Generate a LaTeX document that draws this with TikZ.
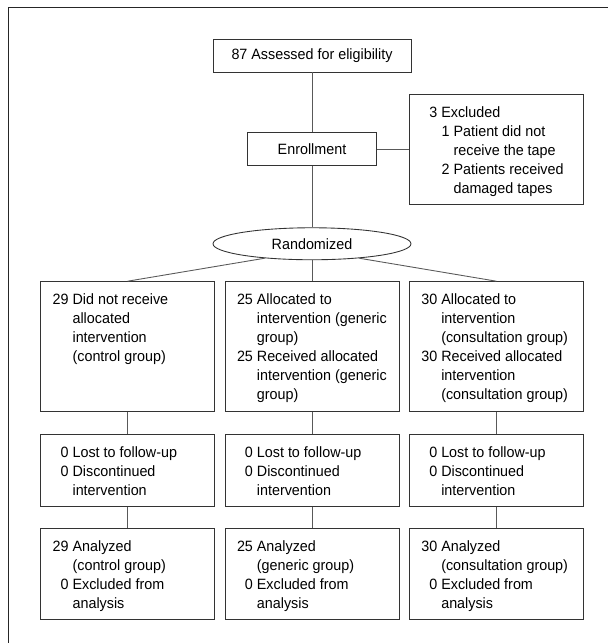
\documentclass[tikz,border=0pt]{standalone}
\usepackage{fontspec}
\setmainfont{Liberation Sans}[FakeStretch=0.96]
\usetikzlibrary{positioning,shapes.geometric}

\newlength{\numcol}
\setlength{\numcol}{9.1pt}
\newcommand{\itm}[1]{\makebox[\numcol][r]{#1}\ }
\newcommand{\cont}{\hspace*{\numcol}\ }
\newcommand{\subin}{\hspace*{7pt}}
\newcommand{\cellbody}[2]{\parbox[c][#1][t]{85.4pt}{\raggedright #2}}

\begin{document}
\begin{tikzpicture}[%
            font=\fontsize{8.5}{10.8}\selectfont,
            box/.style={draw=black!80, line width=0.5pt, minimum width=3.96cm, minimum height=0.66cm, inner sep=0pt},
            cell/.style={draw=black!80, line width=0.5pt, inner xsep=6.8pt, inner ysep=6.8pt},
            oval/.style={ellipse, draw=black!80, line width=0.5pt, minimum width=3.96cm, minimum height=0.64cm, inner sep=0pt},
            link/.style={draw=black!65, line width=0.5pt}
        ]
        \useasboundingbox (0,0) rectangle (12.16,-12.86);

        % Frame
        \draw[line width=1pt, black!85] (0.17,-12.86) -- (0.17,-0.15) -- (12.16,-0.15);

        % Enrollment
        \node[box] (assess) at (6.24,-1.11) {87 Assessed for eligibility};
        \node[box, minimum width=2.58cm] (enroll) [below=1.2cm of assess] {Enrollment};
        \node[cell] (excl) [right=0.64cm of enroll] {\cellbody{49pt}{\itm{3}Excluded\\
            \subin\itm{1}Patient did not\\ \subin\cont receive the tape\\
            \subin\itm{2}Patients received\\ \subin\cont damaged tapes}};
        \node[oval] (rand) [below=1.22cm of enroll] {Randomized};

        % Allocation
        \node[cell] (alloc2) [below=0.42cm of rand] {\cellbody{60.4pt}{\itm{25}Allocated to\\
            \cont intervention (generic\\ \cont group)\\ \itm{25}Received allocated\\
            \cont intervention (generic\\ \cont group)}};
        \node[cell] (alloc1) [left=0.19cm of alloc2] {\cellbody{60.4pt}{\itm{29}Did not receive\\
            \cont allocated\\ \cont intervention\\ \cont (control group)}};
        \node[cell] (alloc3) [right=0.19cm of alloc2] {\cellbody{60.4pt}{\itm{30}Allocated to\\
            \cont intervention\\ \cont (consultation group)\\ \itm{30}Received allocated\\
            \cont intervention\\ \cont (consultation group)}};

        % Follow-up
        \node[cell] (follow1) [below=0.44cm of alloc1] {\cellbody{27.4pt}{\itm{0}Lost to follow-up\\
            \itm{0}Discontinued\\ \cont intervention}};
        \node[cell] (follow2) [below=0.44cm of alloc2] {\cellbody{27.4pt}{\itm{0}Lost to follow-up\\
            \itm{0}Discontinued\\ \cont intervention}};
        \node[cell] (follow3) [below=0.44cm of alloc3] {\cellbody{27.4pt}{\itm{0}Lost to follow-up\\
            \itm{0}Discontinued\\ \cont intervention}};

        % Analysis
        \node[cell] (anal1) [below=0.42cm of follow1] {\cellbody{38.2pt}{\itm{29}Analyzed\\
            \cont (control group)\\ \itm{0}Excluded from\\ \cont analysis}};
        \node[cell] (anal2) [below=0.42cm of follow2] {\cellbody{38.2pt}{\itm{25}Analyzed\\
            \cont (generic group)\\ \itm{0}Excluded from\\ \cont analysis}};
        \node[cell] (anal3) [below=0.42cm of follow3] {\cellbody{38.2pt}{\itm{30}Analyzed\\
            \cont (consultation group)\\ \itm{0}Excluded from\\ \cont analysis}};

        % Connect enrollment part
        \draw[link] (assess) -- (enroll);
        \draw[link] (enroll) -- (excl);
        \draw[link] (enroll) -- (rand);

        % Connect randomization to groups
        \draw[link] (rand.197) -- (alloc1.north);
        \draw[link] (rand) -- (alloc2);
        \draw[link] (rand.-17) -- (alloc3.north);

        % Connect rows
        \draw[link] (alloc1) -- (follow1);
        \draw[link] (alloc2) -- (follow2);
        \draw[link] (alloc3) -- (follow3);
        \draw[link] (follow1) -- (anal1);
        \draw[link] (follow2) -- (anal2);
        \draw[link] (follow3) -- (anal3);

        \end{tikzpicture}
\end{document}
